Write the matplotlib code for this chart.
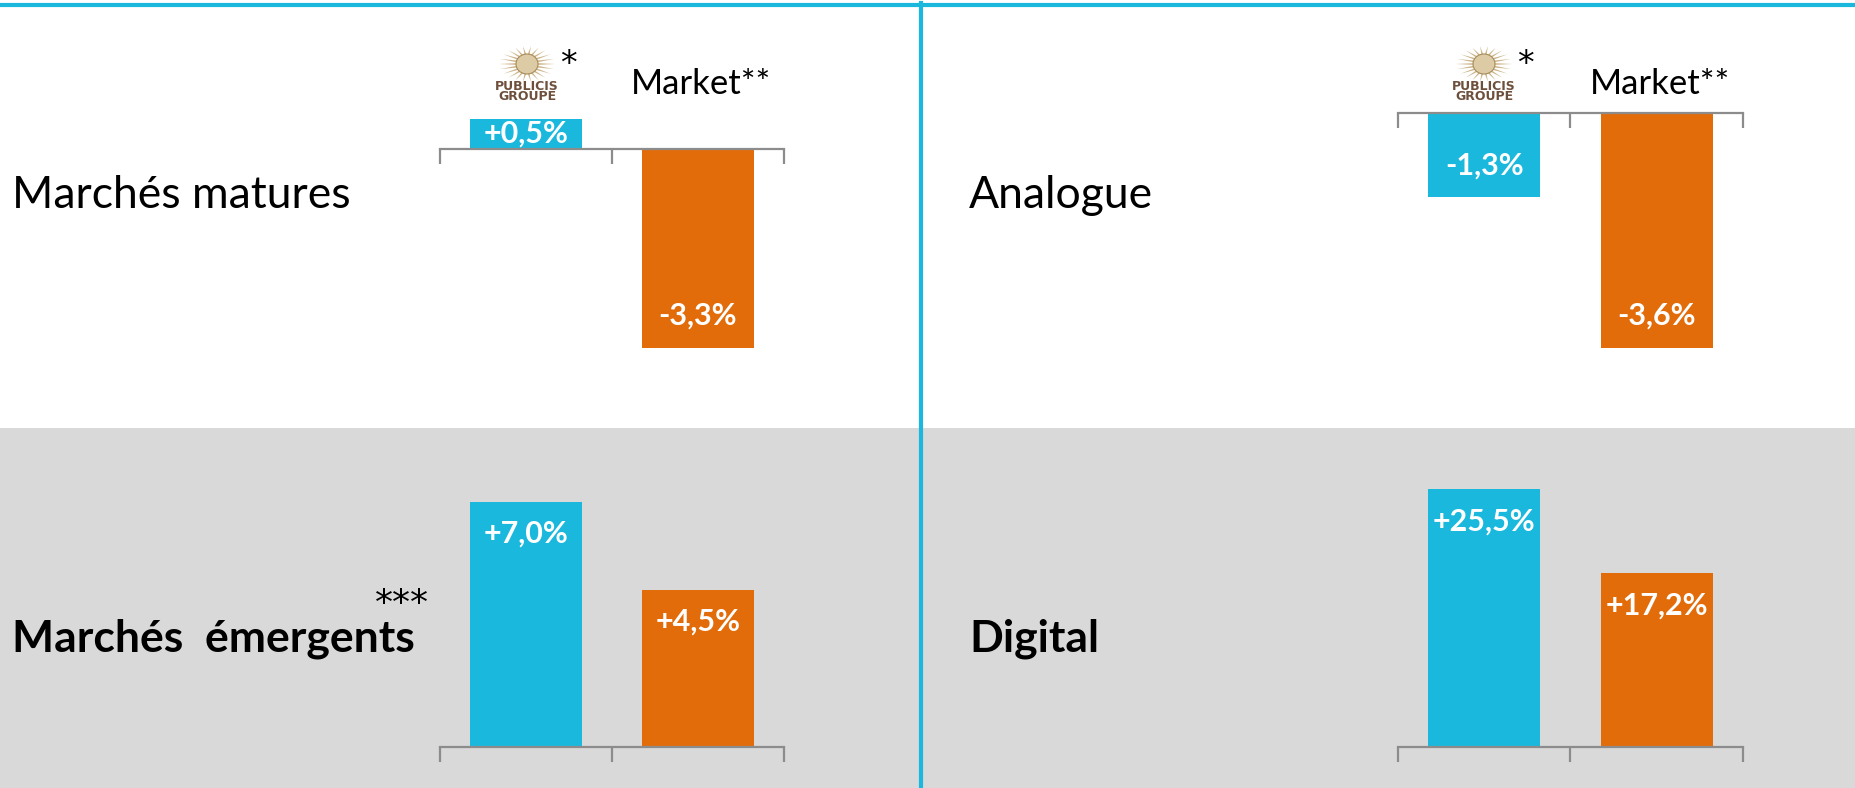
import numpy as np
import matplotlib
matplotlib.use("Agg")
import matplotlib.pyplot as plt
from matplotlib.patches import Rectangle, Ellipse, Polygon
from matplotlib.lines import Line2D
from matplotlib.transforms import blended_transform_factory

# ---------------- data ----------------
series_names = ["Publicis Groupe", "Market"]
panel_titles = ["Marchés matures", "Analogue", "Marchés  émergents", "Digital"]
publicis_values = [0.5, -1.3, 7.0, 25.5]
market_values = [-3.3, -3.6, 4.5, 17.2]
value_labels_publicis = ["+0,5%", "-1,3%", "+7,0%", "+25,5%"]
value_labels_market = ["-3,3%", "-3,6%", "+4,5%", "+17,2%"]
header_market = "Market**"

# ---------------- style ----------------
BLUE = "#1BB8DD"
ORANGE = "#E36C0A"
GRAY_BG = "#D9D9D9"
AXIS_GRAY = "#8C8C8C"
FONT = "Lato"
FONT_LIST = ["Lato", "DejaVu Sans"]

W, H = 1856, 788
fig = plt.figure(figsize=(W / 100, H / 100), dpi=100)
fig.patch.set_facecolor("white")

def fx(x):
    return x / W

def fy(y):
    return 1 - y / H

# background bands and separators
fig.patches.append(Rectangle((0, 0), 1, fy(428), transform=fig.transFigure,
                             facecolor=GRAY_BG, edgecolor="none", zorder=-5))
fig.lines.append(Line2D([0, 1], [fy(4.5), fy(4.5)], transform=fig.transFigure,
                        color=BLUE, lw=3, zorder=5))
fig.lines.append(Line2D([fx(921), fx(921)], [fy(3), 0], transform=fig.transFigure,
                        color=BLUE, lw=3, zorder=5))

# panel layout: (x_left, x_right, zero_line_y, px_per_pct, y_top, y_bottom)
layouts = [
    (440, 784, 149, 60.3, 8, 428),
    (1398, 1743, 112.5, 65.3, 8, 428),
    (440, 784, 747, 35.0, 428, 788),
    (1398, 1743, 747, 10.1, 428, 788),
]
title_pos = [(12, 196, "normal"), (969, 196, "normal"), (12, 639, "bold"), (969, 639, "bold")]

axes = []
for i, (xl, xr, y0, k, yt, yb) in enumerate(layouts):
    ax = fig.add_axes([fx(xl), fy(yb), fx(xr) - fx(xl), (yb - yt) / H])
    ax.set_facecolor("none")
    ax.set_xlim(-0.5, 1.5)
    ax.set_ylim((y0 - yb) / k, (y0 - yt) / k)
    vals = [publicis_values[i], market_values[i]]
    labs = [value_labels_publicis[i], value_labels_market[i]]
    ax.bar([0, 1], vals, width=0.65, color=[BLUE, ORANGE], zorder=2)
    for s in ["top", "left", "right"]:
        ax.spines[s].set_visible(False)
    ax.spines["bottom"].set_position(("data", 0))
    ax.spines["bottom"].set_color(AXIS_GRAY)
    ax.spines["bottom"].set_linewidth(1.6)
    ax.spines["bottom"].set_zorder(3)
    ax.set_xticks([-0.5, 0.5, 1.5])
    ax.set_xticklabels([])
    ax.tick_params(axis="x", direction="out", length=11, width=1.6, color=AXIS_GRAY)
    ax.set_yticks([])
    vmax = max(abs(v) for v in vals)
    for xi, (v, lab) in enumerate(zip(vals, labs)):
        if abs(v) < 0.2 * vmax:
            ax.text(xi, v / 2, lab, ha="center", va="center", color="white",
                    fontsize=22, fontweight="bold", family=FONT, zorder=4)
        else:
            off = -23 if v > 0 else 23
            ax.annotate(lab, (xi, v), xytext=(0, off), textcoords="offset points",
                        ha="center", va="center", color="white",
                        fontsize=22, fontweight="bold", family=FONT, zorder=4)
    tx, ty, wt = title_pos[i]
    fig.text(fx(tx), fy(ty), panel_titles[i], ha="left", va="center",
             fontsize=32, fontweight=wt, family=FONT, color="black")
    axes.append(ax)

# *** footnote marker on emerging markets
fig.text(fx(402), fy(604), "***", ha="center", va="center", fontsize=26,
         family="DejaVu Sans", color="black")

# column headers: logo + Market**
def draw_logo(cx):
    # stylised sun / lion head
    sun_y = 64
    rx_in, ry_in = 10, 9
    rx_out, ry_out = 28, 18
    n = 22
    for j in range(n):
        a = 2 * np.pi * j / n
        a1 = a - 0.10
        a2 = a + 0.10
        pts = [(cx + rx_in * np.cos(a1), sun_y + ry_in * np.sin(a1)),
               (cx + rx_out * np.cos(a), sun_y + ry_out * np.sin(a)),
               (cx + rx_in * np.cos(a2), sun_y + ry_in * np.sin(a2))]
        fig.patches.append(Polygon([(fx(px), fy(py)) for px, py in pts],
                                   closed=True, transform=fig.transFigure,
                                   facecolor="#CDB489", edgecolor="none", zorder=2))
    fig.patches.append(Ellipse((fx(cx), fy(sun_y)), 22 / W, 20 / H, transform=fig.transFigure,
                               facecolor="#DCCBA4", edgecolor="#A88C5A", lw=0.8, zorder=3))
    fig.text(fx(cx), fy(87), "PUBLICIS", ha="center", va="center", fontsize=9,
             fontweight="bold", family="DejaVu Sans", color="#6E4F3C")
    fig.text(fx(cx), fy(97), "GROUPE", ha="center", va="center", fontsize=9,
             fontweight="bold", family="DejaVu Sans", color="#6E4F3C")
    fig.text(fx(cx + 41), fy(64), "*", ha="center", va="center", fontsize=24,
             family="DejaVu Sans", color="black")

for ax, logo_x in zip(axes[:2], [527, 1484]):
    draw_logo(logo_x)
    tr = blended_transform_factory(ax.transData, fig.transFigure)
    ax.text(1.02, fy(84), header_market, transform=tr, ha="center", va="center",
            fontsize=25, family=FONT, color="black")

fig.savefig("out.png", dpi=100, facecolor=fig.get_facecolor())
